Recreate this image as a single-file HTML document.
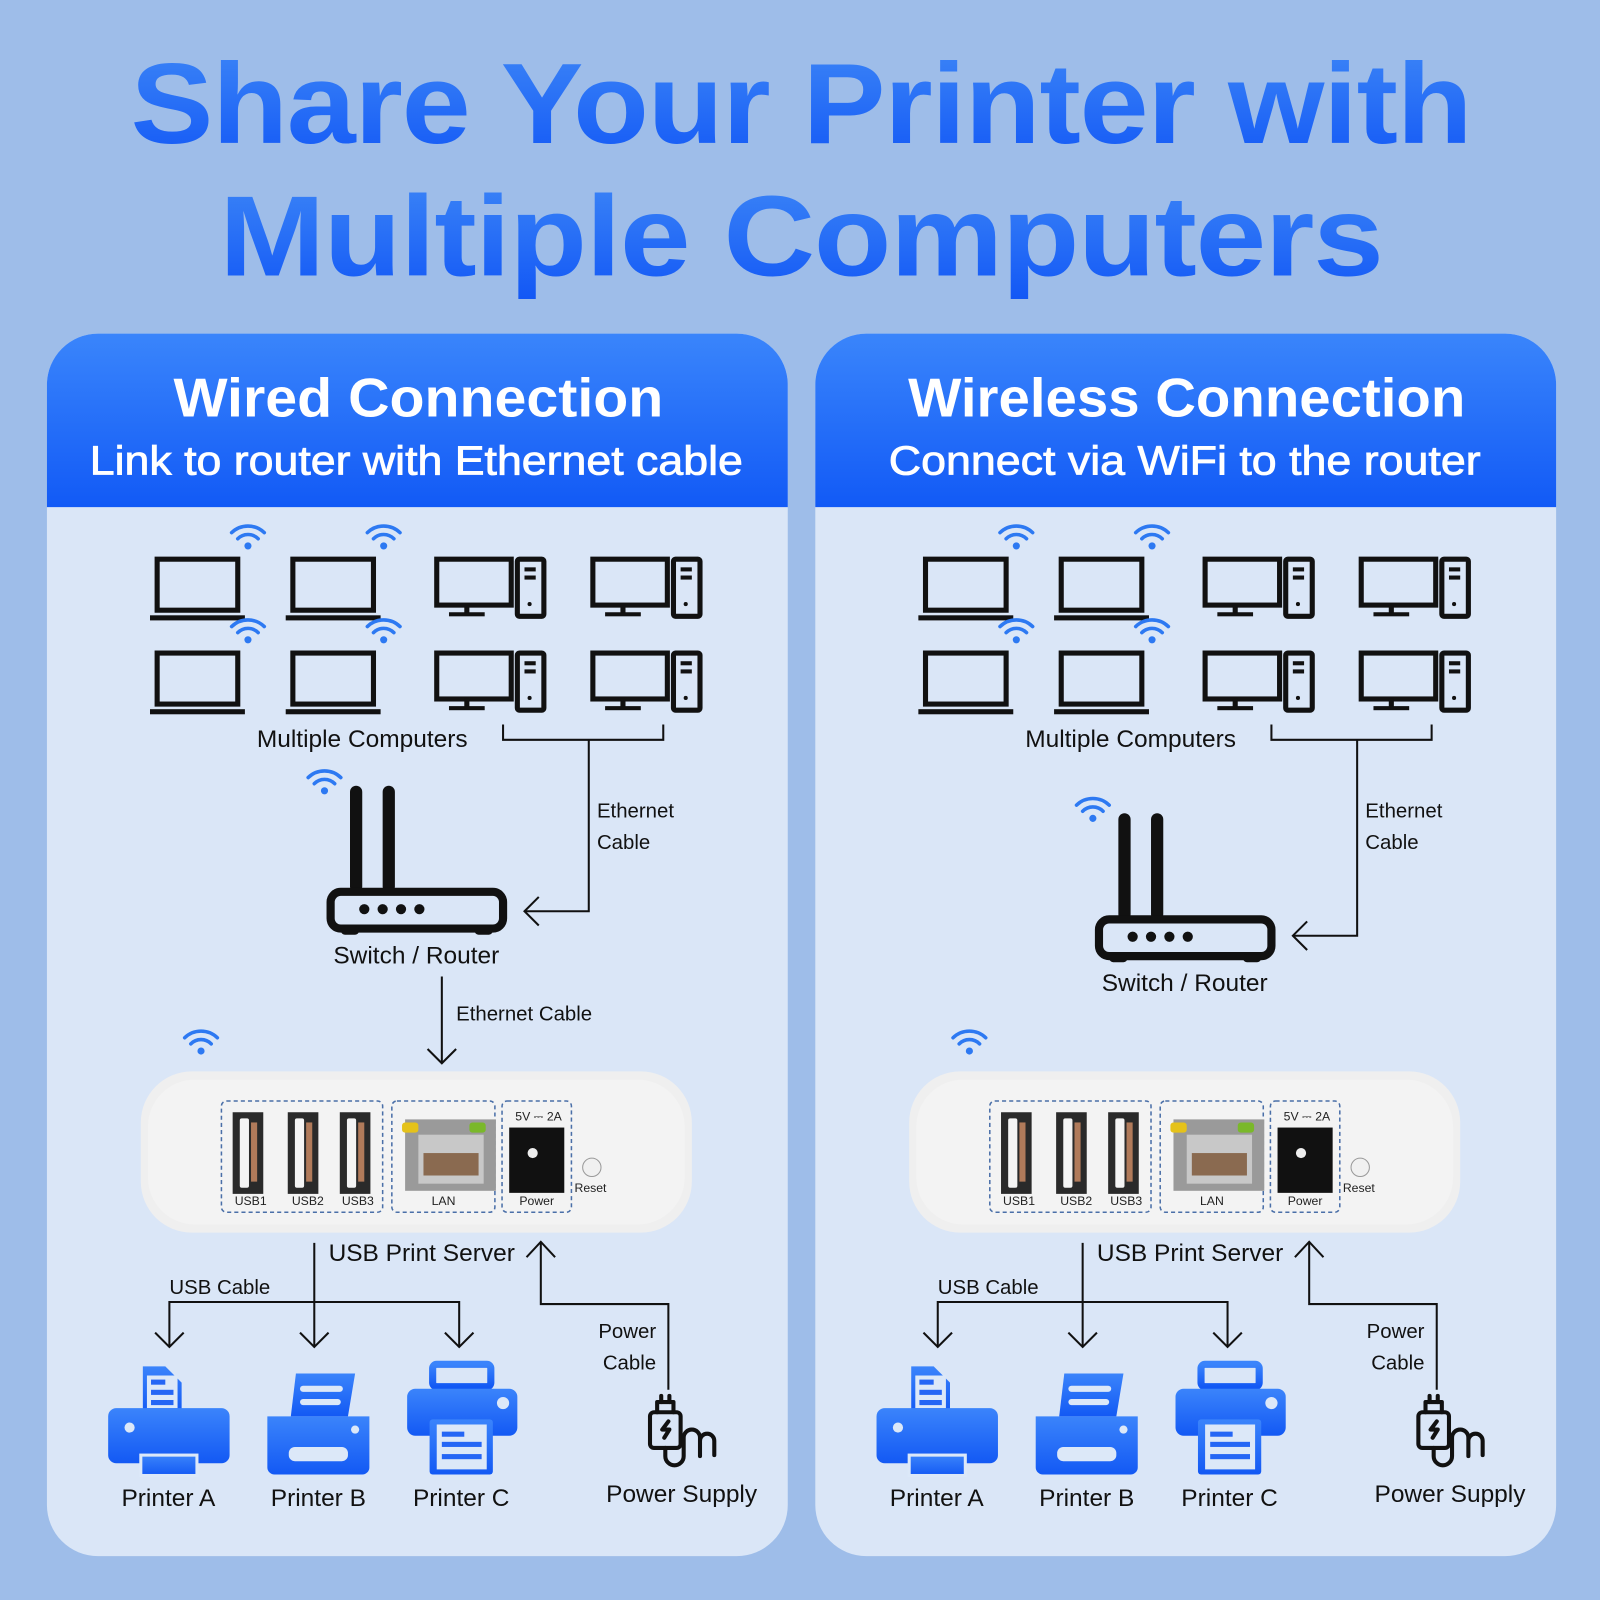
<!DOCTYPE html>
<html><head><meta charset="utf-8"><style>
html,body{margin:0;padding:0;width:1600px;height:1600px;overflow:hidden;background:#9ebde9}
svg{display:block}
text{font-family:"Liberation Sans",sans-serif}
</style></head><body>
<svg width="1600" height="1600" viewBox="0 0 1568 1568" xmlns="http://www.w3.org/2000/svg">
<defs>
<linearGradient id="tg" x1="0" y1="0" x2="0" y2="1"><stop offset="0" stop-color="#3d86f7"/><stop offset="1" stop-color="#1257f5"/></linearGradient>
<linearGradient id="hg" x1="0" y1="0" x2="0" y2="1"><stop offset="0" stop-color="#3a85fb"/><stop offset="1" stop-color="#125af6"/></linearGradient>
<linearGradient id="pg" x1="0" y1="0" x2="0" y2="1"><stop offset="0" stop-color="#3b84fb"/><stop offset="1" stop-color="#1359f4"/></linearGradient>
<g id="wifi" fill="none" stroke="#2d79f2" stroke-width="3.5" stroke-linecap="round">
 <path d="M-16,-8 A23,23 0 0 1 16,-8"/><path d="M-10,-2 A14,14 0 0 1 10,-2"/><circle cx="0" cy="5" r="3.5" fill="#2d79f2" stroke="none"/>
</g>
<g id="laptop"><rect x="154" y="548" width="79" height="50" fill="none" stroke="#111" stroke-width="5"/><rect x="147" y="603" width="93" height="5" fill="#111"/><use href="#wifi" x="243" y="530"/></g>
<g id="desk"><rect x="428" y="548" width="73" height="45" fill="none" stroke="#111" stroke-width="5"/><rect x="455" y="593" width="5" height="9" fill="#111"/><rect x="440" y="600" width="35" height="4" fill="#111"/>
<rect x="507" y="548" width="26" height="56" rx="2" fill="none" stroke="#111" stroke-width="5"/><rect x="514" y="556" width="11" height="4" fill="#111"/><rect x="514" y="564" width="11" height="4" fill="#111"/><circle cx="519" cy="592" r="2" fill="#111"/></g>
<g id="router"><rect x="343" y="770" width="12" height="105" rx="6" fill="#111"/><rect x="375" y="770" width="12" height="105" rx="6" fill="#111"/>
<rect x="324" y="874" width="169" height="36" rx="10" fill="none" stroke="#111" stroke-width="8"/><rect x="334" y="908" width="18" height="8" rx="4" fill="#111"/><rect x="465" y="908" width="18" height="8" rx="4" fill="#111"/>
<circle cx="357" cy="891" r="5" fill="#111"/><circle cx="375" cy="891" r="5" fill="#111"/><circle cx="393" cy="891" r="5" fill="#111"/><circle cx="411" cy="891" r="5" fill="#111"/>
<use href="#wifi" x="318" y="770"/></g>
<g id="usbport"><rect x="0" y="0" width="30" height="80" fill="#2a2a2a"/><rect x="7" y="6" width="9" height="68" rx="2" fill="#f4f4f4"/><rect x="18" y="10" width="6" height="58" fill="#b07a5a"/></g>
<g id="device">
 <rect x="138" y="1050" width="540" height="158" rx="50" fill="#efefef"/>
 <rect x="145" y="1058" width="526" height="142" rx="46" fill="#f3f3f3"/>
 <g fill="none" stroke="#4a6fa8" stroke-width="1.5" stroke-dasharray="4,3">
  <rect x="217" y="1079" width="158" height="109" rx="5"/><rect x="384" y="1079" width="101" height="109" rx="5"/><rect x="492" y="1079" width="68" height="109" rx="5"/></g>
 <use href="#usbport" x="228" y="1090"/><use href="#usbport" x="282" y="1090"/><use href="#usbport" x="333" y="1090"/>
 <rect x="397" y="1097" width="89" height="70" fill="#9a9a9a"/><rect x="410" y="1112" width="64" height="48" fill="#c8c8c8"/><rect x="415" y="1130" width="54" height="22" fill="#8a6a50"/>
 <rect x="394" y="1100" width="16" height="10" rx="3" fill="#e5c21a"/><rect x="460" y="1100" width="16" height="10" rx="3" fill="#7ab82a"/>
 <rect x="499" y="1105" width="54" height="64" fill="#111"/><circle cx="522" cy="1130" r="5" fill="#eee"/>
 <circle cx="580" cy="1144" r="9" fill="#f0f0f0" stroke="#999" stroke-width="1"/>
 <g font-size="12" fill="#222"><text x="230" y="1181">USB1</text><text x="286" y="1181">USB2</text><text x="335" y="1181">USB3</text><text x="423" y="1181">LAN</text><text x="509" y="1181">Power</text><text x="563" y="1168">Reset</text><text x="505" y="1098">5V ⎓ 2A</text></g>
 <use href="#wifi" x="197" y="1025"/>
</g>
<g id="pa"><path d="M140,1339 h22 l16,16 v30 h-38z" fill="url(#pg)"/><rect x="144" y="1348" width="30" height="32" fill="#dce8f8"/><rect x="148" y="1352" width="14" height="5" fill="#2566f5"/><rect x="148" y="1362" width="22" height="5" fill="#2566f5"/><rect x="148" y="1372" width="22" height="5" fill="#2566f5"/>
<rect x="106" y="1380" width="119" height="54" rx="8" fill="url(#pg)"/><circle cx="127" cy="1399" r="5" fill="#dce8f8"/><rect x="138" y="1426" width="55" height="20" fill="url(#pg)" stroke="#dce8f8" stroke-width="3"/></g>
<g id="pb"><path d="M290,1346 h58 l-7,42 h-56z" fill="url(#pg)"/><rect x="294" y="1358" width="42" height="6" rx="3" fill="#dce8f8"/><rect x="294" y="1371" width="40" height="6" rx="3" fill="#dce8f8"/>
<path d="M262,1388 h100 v50 a7,7 0 0 1 -7,7 h-86 a7,7 0 0 1 -7,-7z" fill="url(#pg)"/><rect x="283" y="1418" width="58" height="14" rx="6" fill="#dce8f8"/><circle cx="348" cy="1401" r="4" fill="#dce8f8"/></g>
<g id="pc"><rect x="424" y="1337" width="57" height="22" rx="4" fill="none" stroke="url(#pg)" stroke-width="7"/><rect x="399" y="1361" width="108" height="46" rx="8" fill="url(#pg)"/><circle cx="493" cy="1375" r="6" fill="#dce8f8"/>
<rect x="421" y="1391" width="62" height="54" rx="3" fill="url(#pg)"/><rect x="428" y="1396" width="49" height="44" fill="#dce8f8"/><rect x="433" y="1403" width="22" height="5" fill="#2566f5"/><rect x="433" y="1413" width="39" height="5" fill="#2566f5"/><rect x="433" y="1425" width="39" height="5" fill="#2566f5"/></g>
<g id="plug" fill="none" stroke="#111" stroke-width="4" stroke-linecap="round" stroke-linejoin="round">
 <rect x="637" y="1384" width="30" height="35" rx="4"/><path d="M644,1384 v-10 h16 v10"/><path d="M648,1374 v-6 M656,1374 v-6"/><path d="M655,1393 l-6,8 h7 l-5,8"/>
 <path d="M652,1419 v8 a9,9 0 0 0 18,0 v-18 a8,8 0 0 1 16,0 v18 M700,1426 v-14 a7,7 0 0 0 -14,0"/></g>
<g id="panel">
 <rect x="46" y="327" width="726" height="1198" rx="50" fill="#dae6f7"/>
 <path d="M96,327 h626 a50,50 0 0 1 50,50 v120 h-726 v-120 a50,50 0 0 1 50,-50z" fill="url(#hg)"/>
 <use href="#laptop"/><use href="#laptop" x="133"/><use href="#laptop" y="92"/><use href="#laptop" x="133" y="92"/>
 <use href="#desk"/><use href="#desk" x="153"/><use href="#desk" y="92"/><use href="#desk" x="153" y="92"/>
 <text x="355" y="732" font-size="24" text-anchor="middle" fill="#111">Multiple Computers</text>
 <path d="M493,710 v15 h157 v-15" fill="none" stroke="#111" stroke-width="2"/>
 <text x="585" y="801" font-size="20" fill="#111">Ethernet</text><text x="585" y="832" font-size="20" fill="#111">Cable</text>
 <use href="#device"/>
 <text x="322" y="1236" font-size="24" fill="#111">USB Print Server</text>
 <g fill="none" stroke="#111" stroke-width="2"><path d="M530,1217 v61 h125 v84"/><path d="M516,1232 l14,-15 l14,15"/>
 <path d="M308,1218 v102 M166,1320 v-44 h284 v44"/><path d="M152,1306 l14,14 l14,-14 M294,1306 l14,14 l14,-14 M436,1306 l14,14 l14,-14"/></g>
 <text x="166" y="1268" font-size="20" fill="#111">USB Cable</text>
 <text x="643" y="1311" font-size="20" text-anchor="end" fill="#111">Power</text><text x="643" y="1342" font-size="20" text-anchor="end" fill="#111">Cable</text>
 <use href="#pa"/><use href="#pb"/><use href="#pc"/><use href="#plug"/>
 <g font-size="24" fill="#111" text-anchor="middle"><text x="165" y="1476">Printer A</text><text x="312" y="1476">Printer B</text><text x="452" y="1476">Printer C</text><text x="668" y="1472">Power Supply</text></g>
</g>
</defs>
<rect width="1568" height="1568" fill="#9ebde9"/>
<g font-weight="bold" fill="url(#tg)" text-anchor="middle" font-size="112" letter-spacing="-1">
<text x="785" y="140" textLength="1314" lengthAdjust="spacingAndGlyphs">Share Your Printer with</text>
<text x="785" y="270" textLength="1140" lengthAdjust="spacingAndGlyphs">Multiple Computers</text></g>

<use href="#panel"/>
<use href="#router"/>
<text x="408" y="944" font-size="24" text-anchor="middle" fill="#111">Switch / Router</text>
<g fill="none" stroke="#111" stroke-width="2"><path d="M577,725 v168 h-63"/><path d="M528,879 l-14,14 l14,14"/><path d="M433,957 v85"/><path d="M419,1028 l14,14 l14,-14"/></g>
<text x="447" y="1000" font-size="20" fill="#111">Ethernet Cable</text>
<g fill="#fff" text-anchor="middle"><text x="410" y="408" font-size="54" font-weight="bold" textLength="480" lengthAdjust="spacingAndGlyphs">Wired Connection</text><text x="408" y="465" font-size="40" stroke="#fff" stroke-width="0.8" textLength="640" lengthAdjust="spacingAndGlyphs">Link to router with Ethernet cable</text></g>

<g transform="translate(753,0)">
<use href="#panel"/>
<use href="#router" y="27"/>
<text x="408" y="971" font-size="24" text-anchor="middle" fill="#111">Switch / Router</text>
<g fill="none" stroke="#111" stroke-width="2"><path d="M577,725 v192 h-63"/><path d="M528,903 l-14,14 l14,14"/></g>
<g fill="#fff" text-anchor="middle"><text x="410" y="408" font-size="54" font-weight="bold" textLength="546" lengthAdjust="spacingAndGlyphs">Wireless Connection</text><text x="408" y="465" font-size="40" stroke="#fff" stroke-width="0.8" textLength="580" lengthAdjust="spacingAndGlyphs">Connect via WiFi to the router</text></g>
</g>
</svg>
</body></html>
